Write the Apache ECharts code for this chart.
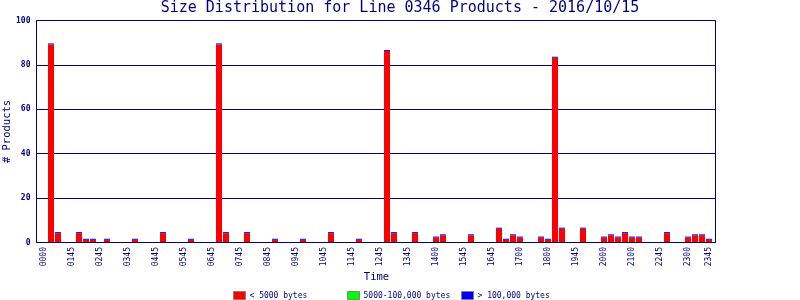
<!DOCTYPE html>
<html>
<head>
<meta charset="utf-8">
<script src="https://cdn.jsdelivr.net/npm/echarts@6/dist/echarts.min.js"></script>
<style>html,body{margin:0;padding:0;background:#fff}#c{width:800px;height:300px}</style>
</head>
<body>
<div id="c"></div>
<script>
const _ = null;
const titleText = 'Size Distribution for Line 0346 Products - 2016/10/15';
const seriesNames = ['< 5000 bytes', '5000-100,000 bytes', '> 100,000 bytes'];
const categories = [
 '0000','0015','0030','0045','0100','0115','0130','0145',
 '0200','0215','0230','0245','0300','0315','0330','0345',
 '0400','0415','0430','0445','0500','0515','0530','0545',
 '0600','0615','0630','0645','0700','0715','0730','0745',
 '0800','0815','0830','0845','0900','0915','0930','0945',
 '1000','1015','1030','1045','1100','1115','1130','1145',
 '1200','1215','1230','1245','1300','1315','1330','1345',
 '1400','1415','1430','1445','1500','1515','1530','1545',
 '1600','1615','1630','1645','1700','1715','1730','1745',
 '1800','1815','1830','1845','1900','1915','1930','1945',
 '2000','2015','2030','2045','2100','2115','2130','2145',
 '2200','2215','2230','2245','2300','2315','2330','2345'
];
const tickLabels = ['0000','0145','0245','0345','0445','0545','0645','0745','0845','0945',
 '1045','1145','1245','1345','1400','1545','1645','1700','1800','1945',
 '2000','2100','2245','2300','2345'];
const yTicks = [0, 20, 40, 60, 80, 100];
const small = [
 0,89,4,0,0,4,1,1,
 0,1,0,0,0,1,0,0,
 0,4,0,0,0,1,0,0,
 0,89,4,0,0,4,0,0,
 0,1,0,0,0,1,0,0,
 0,4,0,0,0,1,0,0,
 0,86,4,0,0,4,0,0,
 2,3,0,0,0,3,0,0,
 0,6,1,3,2,0,0,2,
 1,83,6,0,0,6,0,0,
 2,3,2,4,2,2,0,0,
 0,4,0,0,2,3,3,1
];
const medium = [
 _,0,0,_,_,0,0,0,
 _,0,_,_,_,0,_,_,
 _,0,_,_,_,0,_,_,
 _,0,0,_,_,0,_,_,
 _,0,_,_,_,0,_,_,
 _,0,_,_,_,0,_,_,
 _,0,0,_,_,0,_,_,
 0,0,_,_,_,0,_,_,
 _,0,0,0,0,_,_,0,
 0,0,0,_,_,0,_,_,
 0,0,0,0,0,0,_,_,
 _,0,_,_,0,0,0,0
];
const large = [
 _,0,0,_,_,0,0,0,
 _,0,_,_,_,0,_,_,
 _,0,_,_,_,0,_,_,
 _,0,0,_,_,0,_,_,
 _,0,_,_,_,0,_,_,
 _,0,_,_,_,0,_,_,
 _,0,0,_,_,0,_,_,
 0,0,_,_,_,0,_,_,
 _,0,0,0,0,_,_,0,
 0,0,0,_,_,0,_,_,
 0,0,0,0,0,0,_,_,
 _,0,_,_,0,0,0,0
];

const NAVY = '#000080';
const FONT = '"DejaVu Sans Mono", monospace';
const chart = echarts.init(document.getElementById('c'), null, {renderer: 'canvas'});
function legendAt(name, left) {
  return {
    data: [name], left: left, top: 291, padding: 0, icon: 'rect',
    itemWidth: 12, itemHeight: 8, itemGap: 0, selectedMode: false,
    itemStyle: {borderColor: '#808080', borderWidth: 1},
    textStyle: {color: NAVY, fontFamily: FONT, fontSize: 8, padding: [0, 0, 0, -1]}
  };
}
chart.setOption({
  animation: false,
  backgroundColor: '#fff',
  title: {
    text: titleText, left: 'center', top: 0, padding: [1, 0, 0, 0],
    textStyle: {color: NAVY, fontFamily: FONT, fontSize: 15, fontWeight: 'normal'}
  },
  legend: [legendAt(seriesNames[0], 233), legendAt(seriesNames[1], 347), legendAt(seriesNames[2], 461)],
  grid: [
    {left: 36.5, top: 20.5, width: 679, height: 222, show: true, borderColor: NAVY, borderWidth: 1,
     backgroundColor: 'transparent', containLabel: false, outerBoundsMode: 'none'},
    {left: 40.5, top: 20, width: 672, height: 222, containLabel: false, outerBoundsMode: 'none'}
  ],
  xAxis: [
    {gridIndex: 0, type: 'value', min: 0, max: 1, show: false},
    {
      gridIndex: 1, type: 'category', data: categories, boundaryGap: true,
      axisLine: {show: false}, axisTick: {show: false},
      name: 'Time', nameLocation: 'middle', nameGap: 30, nameMoveOverlap: false,
      nameTextStyle: {color: NAVY, fontFamily: FONT, fontSize: 10.5},
      axisLabel: {
        rotate: 90, margin: 5, color: NAVY, fontFamily: FONT, fontSize: 8,
        interval: function (idx) { return idx % 4 === 0 || idx === categories.length - 1; },
        formatter: function (v, idx) {
          if (idx === categories.length - 1) return tickLabels[tickLabels.length - 1];
          return idx % 4 === 0 ? tickLabels[idx / 4] : '';
        }
      }
    }
  ],
  yAxis: [
    {
      gridIndex: 0, type: 'value', min: yTicks[0], max: yTicks[yTicks.length - 1], interval: 20,
      axisLine: {show: false}, axisTick: {show: false},
      splitLine: {show: true, lineStyle: {color: NAVY, width: 1}},
      name: '# Products', nameLocation: 'middle', nameGap: 24, nameMoveOverlap: false,
      nameTextStyle: {color: NAVY, fontFamily: FONT, fontSize: 10.5},
      axisLabel: {margin: 6, color: NAVY, fontFamily: FONT, fontSize: 8, fontWeight: 'bold'}
    },
    {gridIndex: 1, type: 'value', min: 0, max: 100, show: false}
  ],
  series: [
    {name: seriesNames[0], type: 'bar', stack: 's', xAxisIndex: 1, yAxisIndex: 1, barWidth: 6, data: small, itemStyle: {color: '#ff0000'}},
    {name: seriesNames[1], type: 'bar', stack: 's', xAxisIndex: 1, yAxisIndex: 1, barWidth: 6, data: medium, itemStyle: {color: '#00ff00'}},
    {name: seriesNames[2], type: 'bar', stack: 's', xAxisIndex: 1, yAxisIndex: 1, barWidth: 6, barMinHeight: 1, data: large, itemStyle: {color: '#0000ff'}}
  ]
});
</script>
</body>
</html>
